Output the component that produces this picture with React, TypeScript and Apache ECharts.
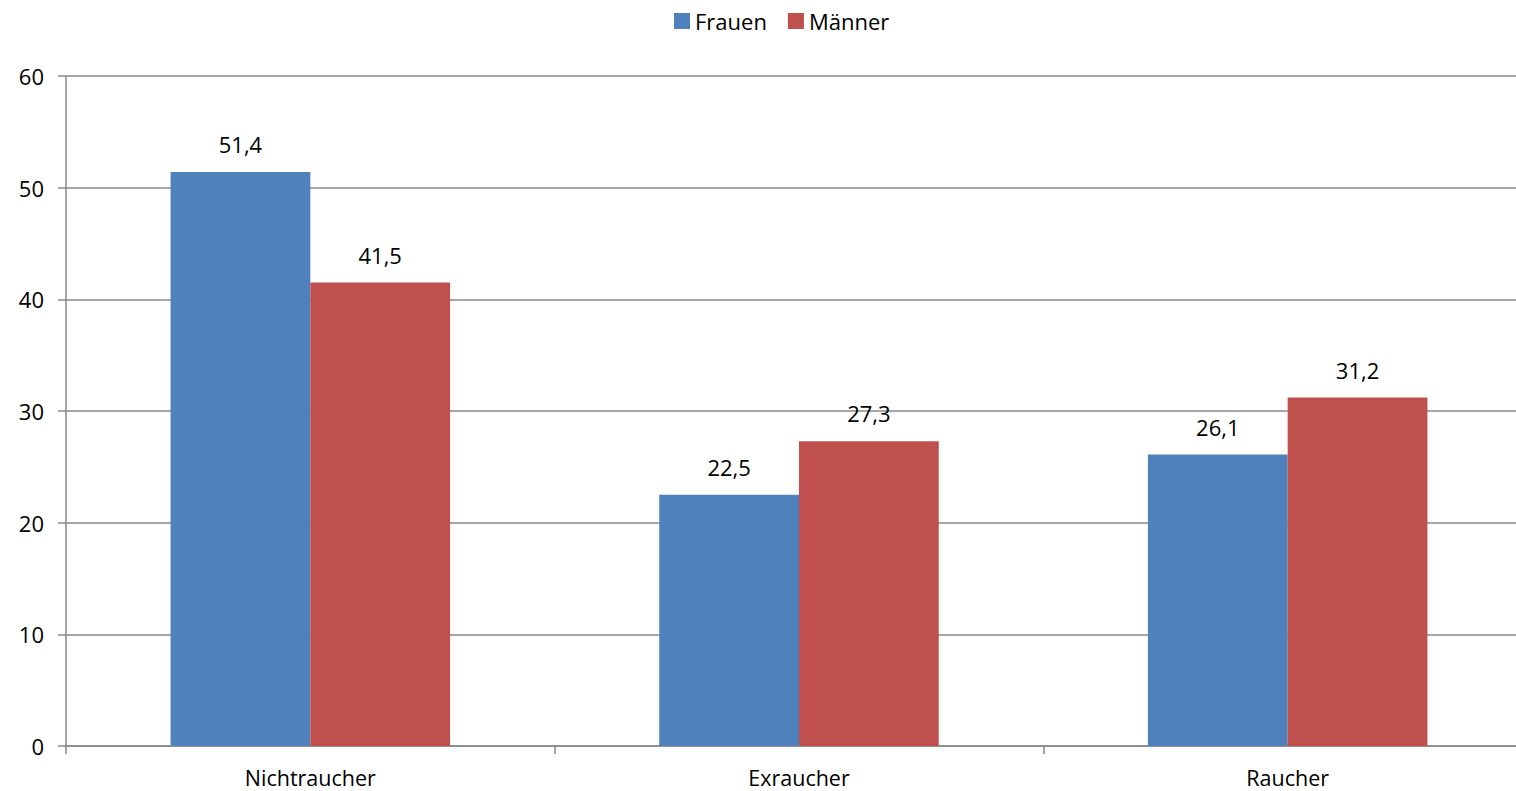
import React, { useEffect, useRef } from "react";
import * as echarts from "echarts";

const categories = ["Nichtraucher", "Exraucher", "Raucher"];
const frauen = [51.4, 22.5, 26.1];
const maenner = [41.5, 27.3, 31.2];
const seriesNames = ["Frauen", "Männer"];

const FONT = "'Open Sans', 'Noto Sans', sans-serif";
const FS = 22;
const fmt = (p: any) => String(p.value).replace(".", ",");

export default function App() {
  const ref = useRef<HTMLDivElement>(null);
  useEffect(() => {
    if (!ref.current) return;
    const chart = echarts.init(ref.current, undefined, { renderer: "svg" });
    const label = {
      show: true,
      position: "top",
      distance: 17,
      formatter: fmt,
      color: "#000",
      fontSize: FS,
      fontFamily: FONT,
    };
    chart.setOption({
      animation: false,
      backgroundColor: "#fff",
      legend: {
        top: 5,
        left: 669,
        itemWidth: 16,
        itemHeight: 16,
        itemGap: 21,
        icon: "rect",
        textStyle: { fontSize: FS, fontFamily: FONT, color: "#000" },
        data: seriesNames,
      },
      grid: { left: 66, top: 76, right: 0, bottom: 45, containLabel: false },
      xAxis: {
        type: "category",
        data: categories,
        axisLine: { lineStyle: { color: "#888", width: 1.5 } },
        axisTick: { show: true, length: 8, alignWithLabel: false, lineStyle: { color: "#888", width: 1.5 } },
        axisLabel: { fontSize: 21.5, fontFamily: FONT, color: "#000", margin: 21, lineHeight: 20 },
      },
      yAxis: {
        type: "value",
        min: 0,
        max: 60,
        interval: 10,
        axisLine: { show: true, lineStyle: { color: "#888", width: 1.5 } },
        axisTick: { show: true, length: 8, lineStyle: { color: "#888", width: 1.5 } },
        axisLabel: { fontSize: FS, fontFamily: FONT, color: "#000", margin: 22 },
        splitLine: { show: true, lineStyle: { color: "#888", width: 1.5 } },
      },
      series: [
        {
          name: seriesNames[0],
          type: "bar",
          data: frauen,
          itemStyle: { color: "#4F81BD" },
          barGap: "0%",
          barCategoryGap: "42.8%",
          label,
        },
        {
          name: seriesNames[1],
          type: "bar",
          data: maenner,
          itemStyle: { color: "#C0504D" },
          barGap: "0%",
          barCategoryGap: "42.8%",
          label,
        },
      ],
    });
    return () => chart.dispose();
  }, []);
  return (
    <div style={{ position: "absolute", left: 0, top: 0, width: 1516, height: 791, overflow: "hidden" }}>
      <div ref={ref} style={{ width: 1532, height: 791 }} />
    </div>
  );
}
